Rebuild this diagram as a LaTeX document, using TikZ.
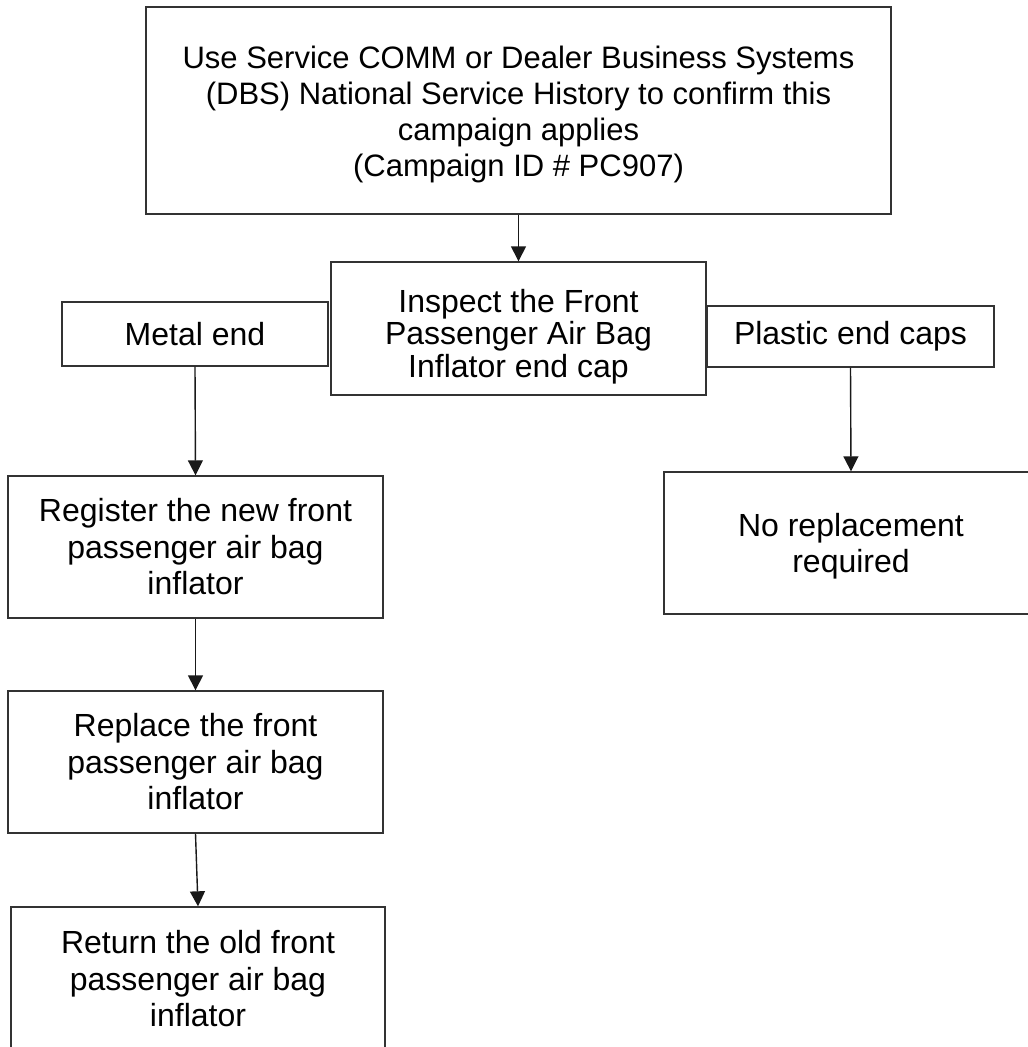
\documentclass[tikz,border=0pt]{standalone}
\usepackage{fontspec}
\setmainfont{Liberation Sans}
\usetikzlibrary{arrows.meta}
\begin{document}
\begin{tikzpicture}[x=1pt,y=-1pt,
  box/.style={draw=black!80, line width=1.4pt, rectangle, inner sep=0pt},
  txt/.style={inner sep=0pt, align=center, font=\fontsize{32}{36.5}\selectfont},
  tighttxt/.style={txt, font=\fontsize{32}{32.5}\selectfont},
  toptxt/.style={txt, font=\fontsize{31}{36}\selectfont},
  arr/.style={-{Triangle[width=15pt,length=15pt]}, line width=1.4pt, black!90}]
\useasboundingbox (0,0) rectangle (1028,1047);
\fill[white] (0,0) rectangle (1028,1047);

% boxes
\node[box, minimum width=745pt, minimum height=207pt] (top) at (518.5,110.5) {};
\node[box, minimum width=375pt, minimum height=133pt] (inspect) at (518.5,328.5) {};
\node[box, minimum width=266pt, minimum height=64pt] (metal) at (195,334) {};
\node[box, minimum width=287pt, minimum height=61pt] (plastic) at (850.5,336.5) {};
\node[box, minimum width=375pt, minimum height=142pt] (register) at (195.5,547) {};
\node[box, minimum width=375pt, minimum height=142pt] (replace) at (195.5,762) {};
\node[box, minimum width=374pt, minimum height=144pt] (return) at (198,979) {};
\node[box, minimum width=374pt, minimum height=142pt] (norepl) at (851,543) {};

% texts
\node[toptxt] (top-t) at ([yshift=-4pt]top.center)
  {Use Service COMM or Dealer Business Systems\\(DBS) National Service History to confirm this\\campaign applies\\(Campaign ID \# PC907)};
\node[tighttxt] (inspect-t) at ([yshift=-8pt]inspect.center)
  {Inspect the Front\\Passenger Air Bag\\Inflator end cap};
\node[tighttxt] (metal-t) at (metal.center) {Metal end};
\node[tighttxt] (plastic-t) at (plastic.center) {Plastic end caps};
\node[txt] (register-t) at (register.center)
  {Register the new front\\passenger air bag\\inflator};
\node[txt] (replace-t) at (replace.center)
  {Replace the front\\passenger air bag\\inflator};
\node[txt] (return-t) at (return.center)
  {Return the old front\\passenger air bag\\inflator};
\node[txt] (norepl-t) at ([yshift=-3pt]norepl.center)
  {No replacement\\required};

% connectors
\draw[arr] (top.south) -- (inspect.north);
\draw[arr] (metal.south) -- (register.north);
\draw[arr] (register.south) -- (replace.north);
\draw[arr] (replace.south) -- (return.north);
\draw[arr] (plastic.south) -- (norepl.north);
\end{tikzpicture}
\end{document}
